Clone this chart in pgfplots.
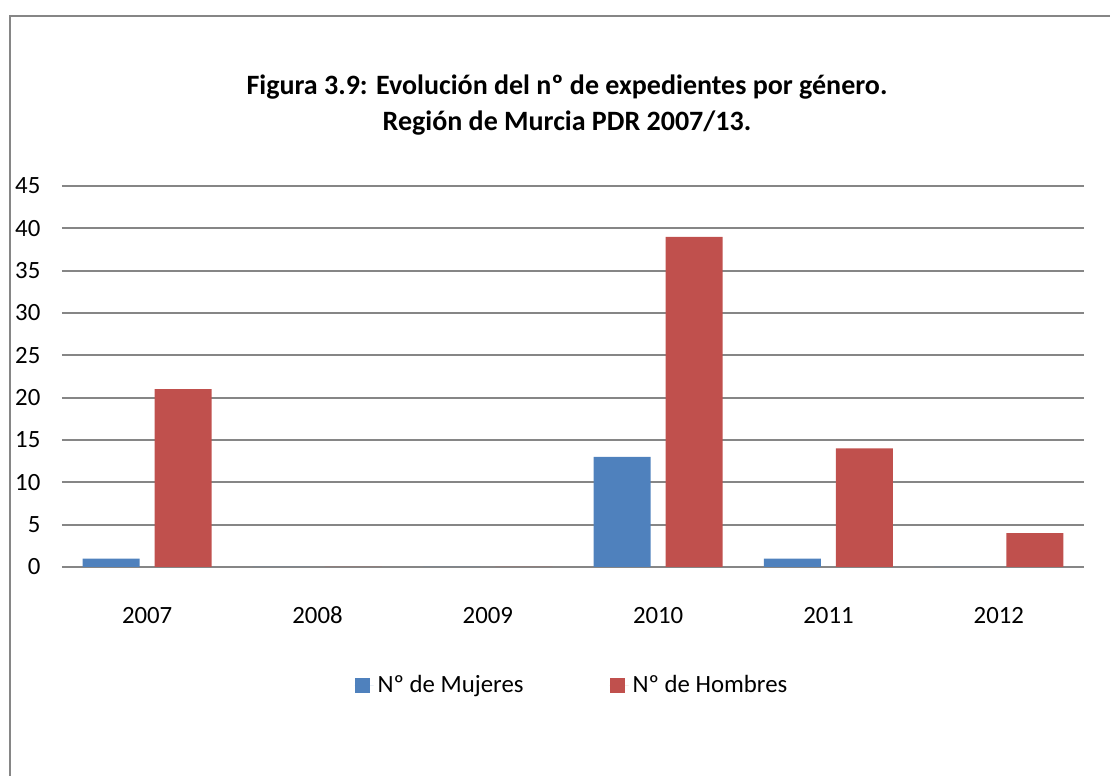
\documentclass[border=0pt]{standalone}
\usepackage{pgfplots}
\pgfplotsset{compat=1.18}
\usepackage{fontspec}
\setmainfont{Carlito}
\definecolor{cblue}{RGB}{79,129,189}
\definecolor{cred}{RGB}{192,80,77}
\definecolor{cgrid}{RGB}{134,134,134}
\definecolor{cborder}{RGB}{134,134,134}
\begin{document}
\fontsize{12.4}{15}\selectfont
\begin{tikzpicture}[x=0.5pt,y=0.5pt]
\useasboundingbox (0,0) rectangle (1110,776);
\draw[cborder,line width=1pt] (10,0) -- (10,760) -- (1110,760);
\node[font=\bfseries\fontsize{14}{18}\selectfont,align=center] at (567,671) {Figura 3.9: Evolución del nº de expedientes por género.\\Región de Murcia PDR 2007/13.};
\begin{axis}[
  at={(31pt,104.5pt)}, anchor=south west,
  scale only axis, width=511pt, height=190.5pt,
  ybar=7.5pt, bar width=28.5pt,
  xmin=-0.5, xmax=5.5, ymin=0, ymax=45,
  ytick={0,5,...,45},
  xtick={0,1,2,3,4,5},
  xticklabels={2007,2008,2009,2010,2011,2012},
  axis line style={draw=none},
  tick style={draw=none},
  ymajorgrids, grid style={cgrid,line width=1pt},
  /pgf/number format/assume math mode=true,
  ticklabel style={font=\fontsize{12.4}{15}\selectfont},
  yticklabel style={xshift=-6.5pt},
  xticklabel style={anchor=base,yshift=-24pt},
  legend style={at={(0.5,-0.312)},anchor=center,draw=none,legend columns=2,
    /tikz/every even column/.append style={column sep=41pt},
    font=\fontsize{12.4}{15}\selectfont},
  legend image code/.code={\fill[#1] (0pt,-3.75pt) rectangle (7.5pt,3.75pt); \path (0pt,0pt) -- (9.5pt,0pt);},
]
\addplot[fill=cblue,draw=none] coordinates {(0,1) (1,0) (2,0) (3,13) (4,1) (5,0)};
\addplot[fill=cred,draw=none] coordinates {(0,21) (1,0) (2,0) (3,39) (4,14) (5,4)};
\legend{Nº de Mujeres, Nº de Hombres}
\end{axis}
\end{tikzpicture}
\end{document}
